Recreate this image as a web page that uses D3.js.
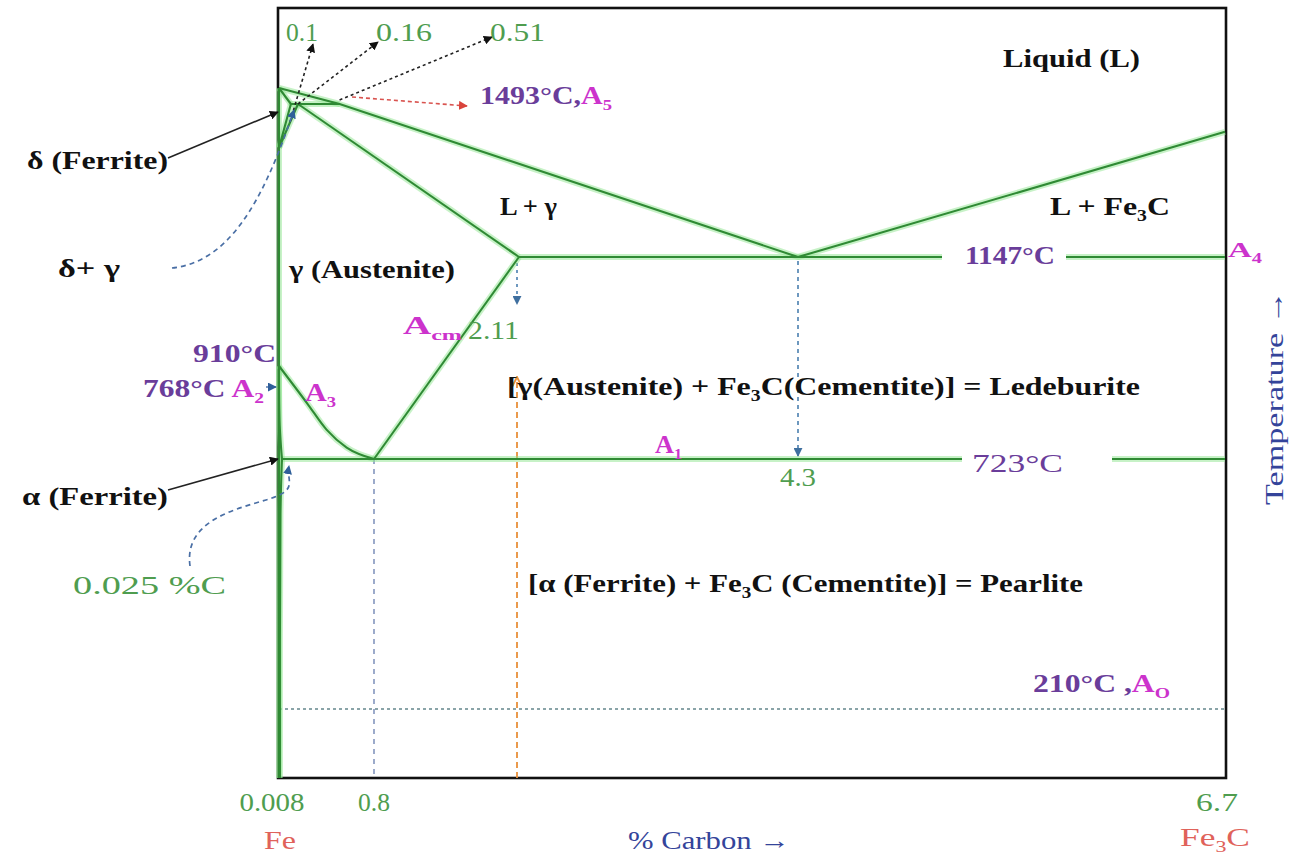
<!DOCTYPE html>
<html>
<head>
<meta charset="utf-8">
<script src="https://cdn.jsdelivr.net/npm/d3@7"></script>
<style>
  body { margin: 0; background: #fff; }
  text { font-family: "Liberation Serif", "Times New Roman", serif; }
</style>
</head>
<body>
<div id="chart"></div>
<script>
// Fe - Fe3C phase diagram (schematic)
var svgWidth = 1298;
var svgHeight = 859;

// carbon % breakpoints of the (non linear) composition axis
var carbonStops = [0, 0.8, 2.11, 4.3, 6.7];
// temperature breakpoints of the temperature axis
var tempStops = [70, 210, 723, 910, 1147, 1493, 1538, 1760];

var bottomTicks = [0.008, 0.8, 6.7];
var bottomTickLabels = ["0.008", "0.8", "6.7"];
var topLabels = ["0.1", "0.16", "0.51"];

// phase boundaries, [carbon %, temperature C]
var liquidus = [[0, 1538], [0.51, 1493], [4.3, 1147], [6.7, 1430]];
var deltaSolidus = [[0, 1538], [0.1, 1493]];
var peritectic = [[0.1, 1493], [0.51, 1493]];
var deltaSolvus = [[0.1, 1493], [0, 1394]];
var gammaDelta = [[0.16, 1493], [0, 1394]];
var solidus = [[0.16, 1493], [2.11, 1147]];
var eutectic = [[2.11, 1147], [6.7, 1147]];
var acm = [[2.11, 1147], [0.8, 723]];
var a3 = [[0, 910], [0.24, 834], [0.4, 782], [0.57, 746], [0.8, 723]];
var alphaSolvus = [[0, 910], [0.006, 790], [0.025, 723]];
var alphaLow = [[0.025, 723], [0.012, 610], [0.008, 70]];
var eutectoid = [[0.025, 723], [6.7, 723]];
var ironEdge = [[0, 1538], [0, 70]];
var a0Temp = 210;

var green = "#2f8a34", halo = "#8fe68f";
var purple = "#6a3d9a", magenta = "#cc33cc", numGreen = "#4f9d4f";
var navy = "#34449a", red = "#e0625a";

var svg = d3.select("#chart")
  .append("svg")
  .attr("width", svgWidth)
  .attr("height", svgHeight);

var x = d3.scaleLinear().domain(carbonStops).range([279, 374, 519, 798, 1225]);
var y = d3.scaleLinear().domain(tempStops).range([778, 709, 459, 366, 257, 104, 88, 8]);

var line = d3.line().x(d => x(d[0])).y(d => y(d[1]));
var curveX = d3.line().x(d => x(d[0])).y(d => y(d[1])).curve(d3.curveMonotoneX);
var curveC = d3.line().x(d => x(d[0])).y(d => y(d[1])).curve(d3.curveCatmullRom);

// markers
var defs = svg.append("defs");
function marker(id, color) {
  defs.append("marker")
    .attr("id", id)
    .attr("viewBox", "0 0 10 10")
    .attr("refX", 9).attr("refY", 5)
    .attr("markerWidth", 9).attr("markerHeight", 9)
    .attr("markerUnits", "userSpaceOnUse")
    .attr("orient", "auto")
    .append("path")
    .attr("d", "M0,0L10,5L0,10Z")
    .attr("fill", color);
}
marker("arBlack", "#111");
marker("arBlue", "#2f5f9a");
marker("arRed", "#d9443c");
marker("arSlate", "#3f6f9f");
defs.append("marker")
  .attr("id", "arOrange")
  .attr("viewBox", "0 0 10 10")
  .attr("refX", 9).attr("refY", 5)
  .attr("markerWidth", 12).attr("markerHeight", 12)
  .attr("markerUnits", "userSpaceOnUse")
  .attr("orient", "auto")
  .append("path")
  .attr("d", "M1,1L9,5L1,9")
  .attr("fill", "none")
  .attr("stroke", "#e8903a")
  .attr("stroke-width", 1.6);

// frame
svg.append("rect")
  .attr("x", x(0) - 1).attr("y", y(1760))
  .attr("width", x(6.7) - x(0) + 2)
  .attr("height", y(70) - y(1760))
  .attr("fill", "none")
  .attr("stroke", "#111")
  .attr("stroke-width", 2.6);

// dashed guide lines
function guide(p1, p2, color, dash, mk, w) {
  var l = svg.append("line")
    .attr("x1", p1[0]).attr("y1", p1[1])
    .attr("x2", p2[0]).attr("y2", p2[1])
    .attr("stroke", color)
    .attr("stroke-width", w || 1.6)
    .attr("stroke-dasharray", dash);
  if (mk) l.attr("marker-end", "url(#" + mk + ")");
  return l;
}
guide([x(0), y(a0Temp)], [x(6.7), y(a0Temp)], "#8aa4a8", "3,3", null, 1.8);
guide([x(0.8), y(723)], [x(0.8), y(70)], "#8496be", "5,5");
guide([x(2.11) - 2, y(70)], [x(2.11) - 2, 377], "#e8903a", "6,4", "arOrange", 1.8);
guide([x(2.11) - 2, y(1147) + 6], [x(2.11) - 2, 304], "#4a7fb0", "3,4", "arSlate");
guide([x(4.3), y(1147) + 4], [x(4.3), y(723) - 3], "#4a7fb0", "4,4", "arSlate");

// phase boundary lines: light halo + dark core
var boundaries = [
  [ironEdge, line], [liquidus, line], [deltaSolidus, line], [peritectic, line],
  [deltaSolvus, line], [gammaDelta, line], [solidus, line], [eutectic, line],
  [acm, line], [a3, curveX], [alphaSolvus, curveC], [alphaLow, curveC], [eutectoid, line]
];
boundaries.forEach(function(b) {
  svg.append("path").attr("d", b[1](b[0]))
    .attr("fill", "none").attr("stroke", halo)
    .attr("stroke-width", 6).attr("stroke-opacity", 0.5)
    .attr("stroke-linejoin", "round");
});
boundaries.forEach(function(b) {
  svg.append("path").attr("d", b[1](b[0]))
    .attr("fill", "none").attr("stroke", green)
    .attr("stroke-width", 2.1)
    .attr("stroke-linejoin", "round");
});

// gaps in the isotherms for their labels
svg.append("rect").attr("x", 942).attr("y", y(1147) - 10).attr("width", 124).attr("height", 20).attr("fill", "#fff");
svg.append("rect").attr("x", 962).attr("y", y(723) - 10).attr("width", 150).attr("height", 20).attr("fill", "#fff");

// leader arrows
guide([290, 122], [313, 44], "#222", "3,3", "arBlack");
guide([x(0.16), y(1493)], [378, 42], "#222", "3,3", "arBlack");
guide([x(0.51), y(1493) - 4], [492, 37], "#222", "3,3", "arBlack");
guide([352, 97], [467, 106], "#d9534f", "4,3", "arRed");
guide([168, 158], [x(0) - 1, 112], "#222", null, "arBlack", 1.6);
guide([168, 490], [x(0) - 1, y(723)], "#222", null, "arBlack", 1.6);
guide([266, 387], [276, 387], "#4a6fa5", null, "arBlue", 1.4);

svg.append("path")
  .attr("d", "M172,268 C228,262 262,205 294,110")
  .attr("fill", "none").attr("stroke", "#4a6fa5")
  .attr("stroke-width", 1.7).attr("stroke-dasharray", "5,4")
  .attr("marker-end", "url(#arBlue)");
svg.append("path")
  .attr("d", "M190,566 C184,522 232,510 266,500 S286,482 289,466")
  .attr("fill", "none").attr("stroke", "#4a6fa5")
  .attr("stroke-width", 1.7).attr("stroke-dasharray", "5,4")
  .attr("marker-end", "url(#arBlue)");

// text helper: parts = [text, color, subscript?], w = width on the page
function label(px, py, w, parts, o) {
  o = o || {};
  var size = o.size || 26;
  var t = svg.append("text")
    .attr("x", px).attr("y", py)
    .attr("font-size", size)
    .attr("font-weight", o.bold ? "bold" : "normal")
    .attr("textLength", w)
    .attr("lengthAdjust", "spacingAndGlyphs");
  var shift = 0;
  parts.forEach(function(p) {
    var s = t.append("tspan").text(p[0]).attr("fill", p[1]);
    var want = p[2] ? 6 : 0;
    if (want !== shift) { s.attr("dy", want - shift); shift = want; }
    if (p[2]) s.attr("font-size", size * 0.62);
  });
  return t;
}

// top composition labels
label(286, 41, 32, [[topLabels[0], numGreen]]);
label(376, 41, 56, [[topLabels[1], numGreen]]);
label(490, 41, 55, [[topLabels[2], numGreen]]);

label(480, 104, 132, [["1493°C,", purple], ["A", magenta], ["5", magenta, true]], {bold: true, size: 25});
label(1003, 67, 137, [["Liquid (L)", "#111"]], {bold: true});
label(500, 215, 57, [["L + γ", "#111"]], {bold: true});
label(1050, 215, 120, [["L + Fe", "#111"], ["3", "#111", true], ["C", "#111"]], {bold: true});
label(289, 278, 166, [["γ (Austenite)", "#111"]], {bold: true});
label(27, 169, 141, [["δ (Ferrite)", "#111"]], {bold: true});
label(58, 277, 62, [["δ+ γ", "#111"]], {bold: true});
label(193, 362, 83, [["910°C", purple]], {bold: true, size: 25});
label(143, 397, 121, [["768°C ", purple], ["A", magenta], ["2", magenta, true]], {bold: true, size: 25});
label(305, 401, 31, [["A", magenta], ["3", magenta, true]], {bold: true, size: 25});
label(403, 334, 59, [["A", magenta], ["cm", magenta, true]], {bold: true, size: 25});
label(468, 339, 51, [["2.11", numGreen]]);
label(507, 395, 633, [["[γ(Austenite) + Fe", "#111"], ["3", "#111", true], ["C(Cementite)] = Ledeburite", "#111"]], {bold: true});
label(655, 453, 27, [["A", magenta], ["1", magenta, true]], {bold: true, size: 25});
label(780, 486, 36, [["4.3", numGreen]]);
label(965, 264, 90, [["1147°C", purple]], {bold: true, size: 25});
label(972, 472, 91, [["723°C", purple]]);
label(1228, 257, 34, [["A", magenta], ["4", magenta, true]], {bold: true, size: 22});
label(22, 505, 146, [["α (Ferrite)", "#111"]], {bold: true});
label(73, 594, 153, [["0.025 %C", numGreen]]);
label(528, 592, 555, [["[α (Ferrite) + Fe", "#111"], ["3", "#111", true], ["C (Cementite)] = Pearlite", "#111"]], {bold: true});
label(1033, 692, 137, [["210°C ,", purple], ["A", magenta], ["O", magenta, true]], {bold: true, size: 25});

// bottom composition ticks
var tickWidths = [65, 32, 42];
bottomTicks.forEach(function(v, i) {
  label(x(v) - tickWidths[i] / 2 - (i === 1 ? 0 : 8), 811, tickWidths[i], [[bottomTickLabels[i], numGreen]]);
});
label(x(0) - 15, 849, 32, [["Fe", red]]);
label(1180, 846, 70, [["Fe", red], ["3", red, true], ["C", red]]);
label(628, 849, 162, [["% Carbon  →", navy]], {size: 25});

svg.append("text")
  .attr("transform", "translate(1283,505) rotate(-90)")
  .attr("font-size", 26)
  .attr("fill", navy)
  .attr("textLength", 215)
  .attr("lengthAdjust", "spacingAndGlyphs")
  .text("Temperature  →");
</script>
</body>
</html>
